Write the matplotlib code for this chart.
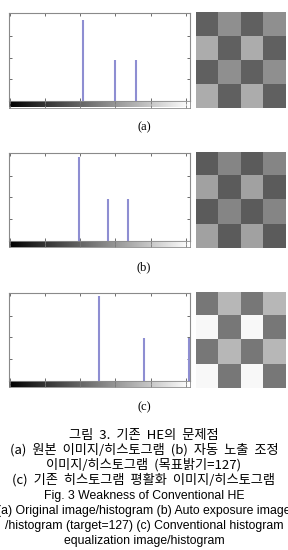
import numpy as np
import matplotlib.pyplot as plt

# 각 패널의 체커보드 밝기값 (어두움 / 중간 / 밝음)
levels_a = [104, 150, 179]
levels_b = [99, 140, 168]
levels_c = [127, 190, 255]
# 16칸 중 각 밝기의 칸 수
counts = [8, 4, 4]
# 4x4 패턴: 0=어두움, 1=중간, 2=밝음
pattern = [[0, 1, 0, 1],
           [2, 0, 2, 0],
           [0, 1, 0, 1],
           [2, 0, 2, 0]]
ymax = [8.66, 8.45, 8.33]
panel_labels = ['(a)', '(b)', '(c)']
xticks = [0, 50, 100, 150, 200, 250]

caption_kr = ['그림 3. 기존 HE의 문제점',
              '(a) 원본 이미지/히스토그램 (b) 자동 노출 조정',
              '이미지/히스토그램 (목표밝기=127)',
              '(c) 기존 히스토그램 평활화 이미지/히스토그램']
caption_en = ['Fig. 3 Weakness of Conventional HE',
              '(a) Original image/histogram (b) Auto exposure image',
              '/histogram (target=127) (c) Conventional histogram',
              'equalization image/histogram']

W, H = 288, 550
fig = plt.figure(figsize=(W / 100, H / 100), dpi=100)


def box(x0, y0, x1, y1):
    # 픽셀 좌표(위쪽 기준) -> figure 비율
    return [x0 / W, 1 - y1 / H, (x1 - x0) / W, (y1 - y0) / H]


tops = [13, 152.7, 292.7]
frame = '#8a8a8a'
spike = '#8e8ed2'

for i, levels in enumerate([levels_a, levels_b, levels_c]):
    top = tops[i]
    # 히스토그램
    ax = fig.add_axes(box(9, top, 190, top + 88))
    ax.vlines(levels, 0, counts, color=spike, lw=1.5)
    ax.set_xlim(-1, 256)
    ax.set_ylim(0, ymax[i])
    ax.set_xticks(xticks)
    ax.set_yticks(np.arange(1, 4) * ymax[i] / 4.07)
    ax.tick_params(direction='in', length=2, width=0.6, color='#555555',
                   top=True, right=True, labelbottom=False, labelleft=False)
    for s in ax.spines.values():
        s.set_color(frame)
        s.set_linewidth(0.8)

    # 그레이 컬러바
    cb = fig.add_axes(box(9, top + 88, 190, top + 94.5))
    cb.imshow(np.linspace(0, 1, 256)[None, :], cmap='gray', aspect='auto',
              extent=[-1, 256, 0, 1])
    cb.set_xlim(-1, 256)
    cb.set_xticks(xticks)
    cb.set_yticks([])
    cb.tick_params(direction='in', length=2, width=0.6, color='#777777',
                   top=True, bottom=True, labelbottom=False)
    for s in cb.spines.values():
        s.set_color(frame)
        s.set_linewidth(0.6)

    # 체커보드 이미지 (표시는 약간 어둡게)
    im = fig.add_axes(box(196, top - 1, 286, top + 95))
    img = np.array(levels)[np.array(pattern)]
    im.imshow(img, cmap='gray', vmin=8, vmax=262, aspect='auto',
              interpolation='nearest')
    im.set_axis_off()

    fig.text(0.5, 1 - (top + 114.5) / H, panel_labels[i], ha='center',
             va='center', fontsize=9, family='Liberation Serif')

ys_kr = [436, 450, 465, 480]
for y, t in zip(ys_kr, caption_kr):
    fig.text(0.5, 1 - y / H, t.replace(' ', '  '), ha='center', va='center',
             fontsize=9.5, family=['Noto Sans CJK KR', 'DejaVu Sans'])
ys_en = [496, 511, 526, 541]
for y, t in zip(ys_en, caption_en):
    fig.text(0.5, 1 - y / H, t, ha='center', va='center', fontsize=8.8,
             family='Liberation Sans')

fig.savefig('out.png', dpi=100)
